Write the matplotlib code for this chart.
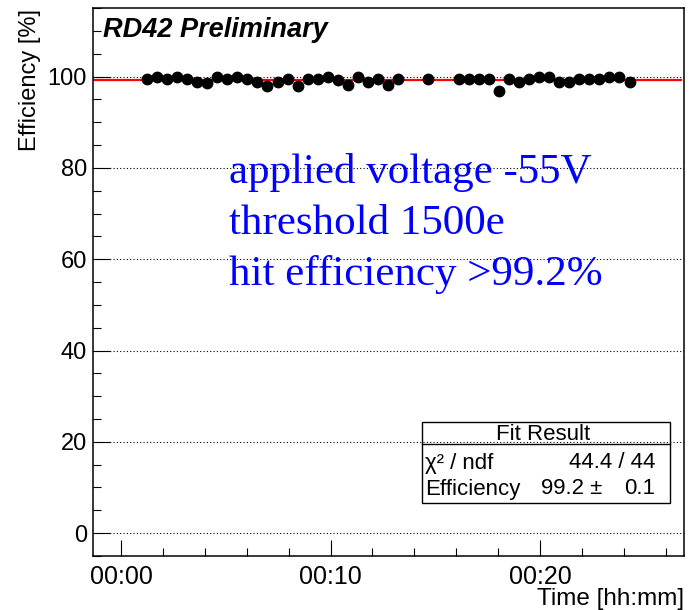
import matplotlib
matplotlib.use("Agg")
import matplotlib.pyplot as plt
from matplotlib.ticker import MultipleLocator, FuncFormatter
from matplotlib.patches import Rectangle
from matplotlib.lines import Line2D

# ---- data ----
time_min = [1.23, 1.71, 2.19, 2.67, 3.15, 3.63, 4.11, 4.59, 5.07, 5.55, 6.03, 6.51,
            6.99, 7.47, 7.95, 8.43, 8.91, 9.39, 9.87, 10.35, 10.83, 11.31, 11.79, 12.27,
            12.75, 13.23, 14.67, 16.11, 16.59, 17.07, 17.55, 18.03, 18.51, 18.99, 19.47,
            19.95, 20.43, 20.91, 21.39, 21.87, 22.35, 22.83, 23.31, 23.79, 24.27]
efficiency = [99.5, 100, 99.5, 100, 99.5, 98.8, 98.6, 100, 99.5, 100, 99.5, 98.8,
              98.0, 98.8, 99.5, 98.0, 99.5, 99.5, 100, 99.3, 98.2, 100, 98.8, 99.5,
              98.2, 99.5, 99.5, 99.5, 99.5, 99.5, 99.5, 96.9, 99.5, 98.9, 99.4,
              100, 100, 98.8, 98.8, 99.5, 99.5, 99.5, 100, 100, 98.8]
fit_value = 99.2
fit_range = [-1.36, 26.75]
x_ticks = [0, 10, 20]
y_ticks = [0, 20, 40, 60, 80, 100]
info_lines = ["applied voltage -55V", "threshold 1500e", "hit efficiency >99.2%"]
fit_rows = [("\u03c7\u00b2 / ndf", "44.4 / 44"), ("Efficiency", "99.2 \u00b1", "0.1")]

W, H = 696, 610
fig = plt.figure(figsize=(W / 100, H / 100), dpi=100)
plt.rcParams['font.family'] = ['Liberation Sans', 'DejaVu Sans']

def fx(px):
    return px / W

def fy(py):
    return 1 - py / H

ax = fig.add_axes([fx(92.5), fy(556), fx(684) - fx(92.5), fy(8) - fy(556)])
ax.set_xlim(-1.36, 26.87)
ax.set_ylim(-5, 115)

for yv in y_ticks:
    ax.axhline(yv, color='black', lw=0.8, linestyle=(0, (1, 2)), zorder=1)

ax.plot(fit_range, [fit_value, fit_value], color='red', lw=1.6, zorder=2)
ax.plot(time_min, efficiency, 'o', color='black', markersize=7.5, zorder=3)

ax.xaxis.set_major_locator(MultipleLocator(10))
ax.xaxis.set_minor_locator(MultipleLocator(2))
ax.yaxis.set_major_locator(MultipleLocator(20))
ax.yaxis.set_minor_locator(MultipleLocator(5))
ax.set_xticks(x_ticks)
ax.set_yticks(y_ticks)
ax.xaxis.set_major_formatter(FuncFormatter(lambda v, p: f"00:{int(round(v)):02d}"))
ax.tick_params(axis='x', which='major', direction='in', length=11.5, width=0.8,
               labelsize=18, pad=6.5)
ax.tick_params(axis='x', which='minor', direction='in', length=5.8, width=0.8)
ax.tick_params(axis='y', which='major', direction='in', length=12.2, width=0.8,
               labelsize=17, pad=4)
ax.tick_params(axis='y', which='minor', direction='in', length=6, width=0.8)
for s in ax.spines.values():
    s.set_linewidth(1.1)

fig.text(fx(30), fy(9), "Efficiency [%]", rotation=90, ha='center', va='top', fontsize=17)
fig.text(fx(684), fy(605), "Time [hh:mm]", ha='right', va='baseline', fontsize=17.5)

fig.text(fx(103), fy(36.7), "RD42 Preliminary", ha='left', va='baseline',
         fontsize=19.5, fontweight='bold', fontstyle='italic')

for i, line in enumerate(info_lines):
    fig.text(fx(229), fy(183 + 51 * i), line, ha='left', va='baseline', color='blue',
             fontsize=31, family=['Liberation Serif', 'DejaVu Serif'])

# Fit result box
box = Rectangle((fx(421.7), fy(503)), fx(670) - fx(421.7), fy(421.7) - fy(503),
                transform=fig.transFigure, fill=False, edgecolor='black', lw=1.0, zorder=5)
fig.patches.append(box)
fig.lines.append(Line2D([fx(421.7), fx(670)], [fy(444), fy(444)], transform=fig.transFigure,
                        color='black', lw=1.0))
fs = 16
fig.text(fx(543), fy(434), "Fit Result", ha='center', va='center', fontsize=fs)
fig.text(fx(425), fy(463), fit_rows[0][0], ha='left', va='center', fontsize=fs)
fig.text(fx(655), fy(463), fit_rows[0][1], ha='right', va='center', fontsize=fs)
fig.text(fx(425), fy(489), fit_rows[1][0], ha='left', va='center', fontsize=fs)
fig.text(fx(602), fy(489), fit_rows[1][1], ha='right', va='center', fontsize=fs)
fig.text(fx(655), fy(489), fit_rows[1][2], ha='right', va='center', fontsize=fs)

fig.savefig("out.png", dpi=100)
